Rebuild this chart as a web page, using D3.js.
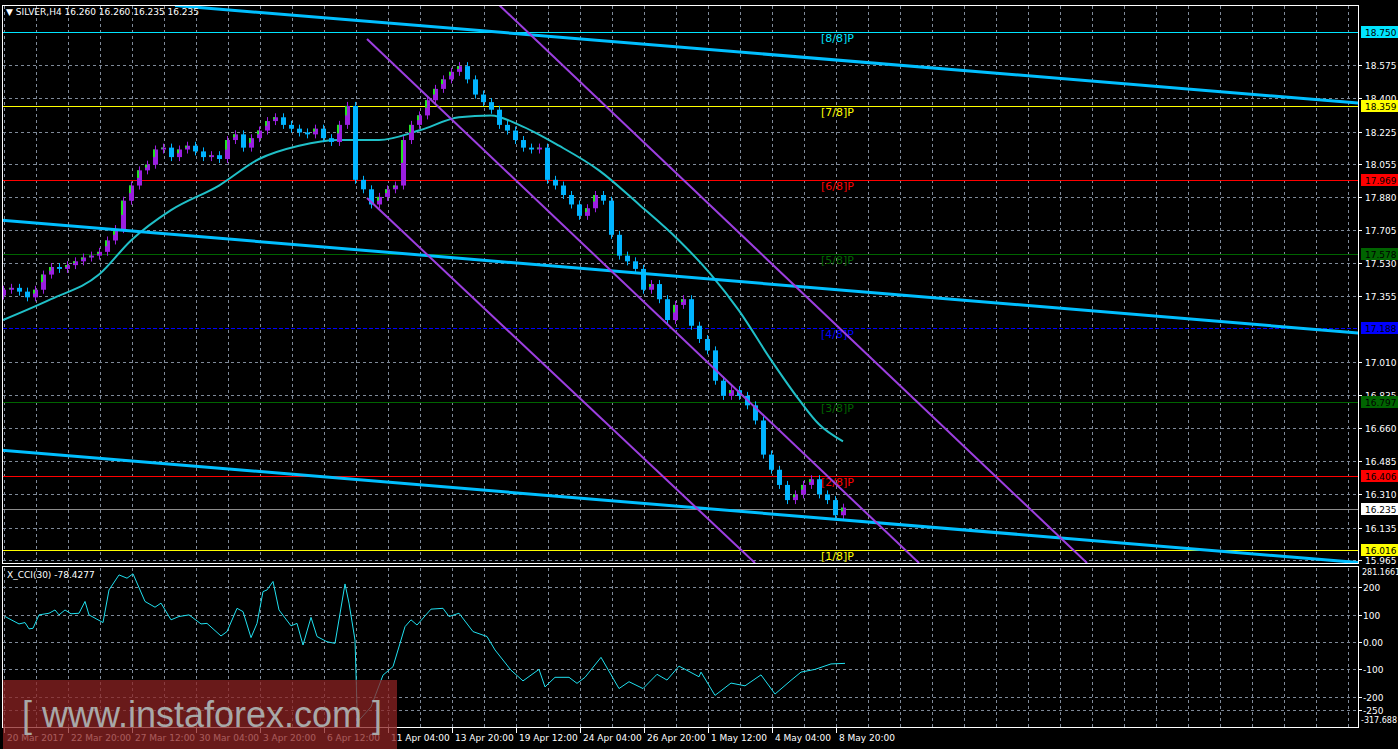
<!DOCTYPE html>
<html><head><meta charset="utf-8">
<script src="https://cdn.jsdelivr.net/npm/d3@7"></script>
<style>body{margin:0;background:#000;}svg{display:block;}text{font-family:"DejaVu Sans",sans-serif;font-size:9px;}</style>
</head><body>
<svg id="c" width="1398" height="749"></svg>
<script>
// closes of the 8-hour candles (slot = 2 * candle index)
var closes = [17.39,17.40,17.38,17.35,17.39,17.47,17.51,17.50,17.52,17.54,
  17.56,17.57,17.59,17.65,17.71,17.86,17.94,18.02,18.05,18.13,
  18.14,18.09,18.13,18.15,18.12,18.09,18.10,18.08,18.18,18.21,
  18.14,18.19,18.23,18.28,18.30,18.26,18.24,18.22,18.21,18.24,
  18.19,18.17,18.26,18.36,17.97,17.92,17.84,17.88,17.92,17.94,
  18.18,18.26,18.31,18.39,18.45,18.50,18.54,18.57,18.50,18.42,
  18.38,18.34,18.26,18.23,18.18,18.14,18.13,18.14,17.97,17.94,
  17.89,17.84,17.78,17.82,17.89,17.86,17.68,17.57,17.54,17.50,
  17.39,17.42,17.34,17.23,17.31,17.34,17.20,17.13,17.07,16.91,
  16.83,16.86,16.83,16.78,16.70,16.52,16.44,16.36,16.28,16.31,
  16.36,16.39,16.31,16.28,16.20,16.24];
var firstOpen = 17.36;
var maSlot = [0,12,24,32,42,54,64,74,84,94,104,114,122,129,139,149,159,169,177,184,192,199,204,210];
var maVal = [17.23,17.34,17.47,17.65,17.81,17.94,18.08,18.15,18.18,18.18,18.23,18.30,18.31,18.26,18.15,18.02,17.84,17.65,17.47,17.28,17.02,16.81,16.68,16.59];
var cci = [[0.5,93],[4,66],[5.5,71],[6.5,48],[7.5,50],[9,99],[11.5,105],[13,117],[14,99],[15.5,117],[17,103],[19,105],[20.5,148],[21.5,99],[25,71],[26.5,190],[29,245],[31,233],[32.5,249],[35.5,148],[38,127],[39.5,142],[42,81],[44,93],[46.5,99],[49.5,66],[51,68],[54.5,22],[56,38],[58.5,123],[60,111],[62,16],[63.5,68],[65,184],[66,190],[67.5,221],[69,117],[72,59],[73.5,68],[75,-11],[77,90],[78.5,20],[81,1],[83,-5],[85.5,212],[86.5,142],[88,7],[88.5,-237],[89,-286],[92,-237],[95,-121],[97.5,-90],[100.5,56],[102,81],[103.5,62],[107,120],[110,123],[111.5,93],[114,105],[117.5,38],[121,20],[123,-29],[127,-103],[130,-142],[134,-100],[135.5,-164],[138,-129],[141.5,-129],[143.5,-151],[145.5,-129],[149.5,-56],[154,-170],[156.5,-145],[160,-170],[163.5,-118],[166,-139],[169,-88],[174,-127],[174.5,-110],[178,-195],[182,-150],[185.5,-160],[189.5,-120],[193,-190],[197,-140],[199.5,-110],[203,-100],[207,-80],[210.5,-78]];
var levels = [
  {p:18.750,name:"[8/8]P",c:"#00e5ff",bg:"#00e5ff",tc:"#000"},
  {p:18.359,name:"[7/8]P",c:"#ffff00",bg:"#ffff00",tc:"#000"},
  {p:17.969,name:"[6/8]P",c:"#ff0000",bg:"#ff0000",tc:"#000"},
  {p:17.578,name:"[5/8]P",c:"#006400",bg:"#006400",tc:"#000"},
  {p:17.188,name:"[4/8]P",c:"#0000ff",bg:"#0000ff",tc:"#000",dash:"4,2"},
  {p:16.797,name:"[3/8]P",c:"#006400",bg:"#006400",tc:"#000"},
  {p:16.406,name:"[2/8]P",c:"#ff0000",bg:"#ff0000",tc:"#000"},
  {p:16.016,name:"[1/8]P",c:"#ffff00",bg:"#ffff00",tc:"#000"}];
var trendLines = [[43,18.89,339,18.375],[-0.75,17.758,345.5,17.15],[-0.75,16.544,339,15.95]];
var channel = [[123.5,18.903,271,15.948],[91,18.713,229,15.948],[91,17.874,188,15.948]];
var priceTicks = ["18.575","18.400","18.225","18.055","17.880","17.705","17.530","17.355","17.010","16.835","16.660","16.485","16.310","16.135","15.965"];
var cciTicks = [200,100,0,-100,-200,-250];
var timeLabels = ["20 Mar 2017","22 Mar 20:00","27 Mar 12:00","30 Mar 04:00","3 Apr 20:00","6 Apr 12:00","11 Apr 04:00","13 Apr 20:00","19 Apr 12:00","24 Apr 04:00","26 Apr 20:00","1 May 12:00","4 May 04:00","8 May 20:00"];
var lastPrice = 16.235;

var svg = d3.select("#c");
var W = 1358;
var x = d3.scaleLinear().domain([0, 338.75]).range([3, 1358]);
var y = d3.scaleLinear().domain([15.948, 18.919]).range([563, 0]);
var yc = d3.scaleLinear().domain([-317.688, 281.1661]).range([729, 565]);

svg.append("rect").attr("width",1398).attr("height",749).attr("fill","#000");

// grid
var g = svg.append("g").attr("stroke","#7f8a99").attr("stroke-dasharray","3,3").attr("stroke-width",1);
for (var s = 0.25; s < 338; s += 8) {
  g.append("line").attr("x1",Math.round(x(s))+0.5).attr("x2",Math.round(x(s))+0.5).attr("y1",6).attr("y2",563);
  g.append("line").attr("x1",Math.round(x(s))+0.5).attr("x2",Math.round(x(s))+0.5).attr("y1",568).attr("y2",728);
}
priceTicks.forEach(function (t) {
  var yy = Math.round(y(+t)) + 0.5;
  g.append("line").attr("x1",3).attr("x2",W).attr("y1",yy).attr("y2",yy);
});
cciTicks.forEach(function (t) {
  var yy = Math.round(yc(t)) + 0.5;
  g.append("line").attr("x1",3).attr("x2",W).attr("y1",yy).attr("y2",yy);
});

// clip for price panel
svg.append("clipPath").attr("id","pc").append("rect").attr("x",2).attr("y",6).attr("width",W-2).attr("height",557);
var pg = svg.append("g").attr("clip-path","url(#pc)");

levels.forEach(function (l) {
  var yy = Math.round(y(l.p)) + 0.5;
  pg.append("line").attr("x1",3).attr("x2",W).attr("y1",yy).attr("y2",yy)
    .attr("stroke",l.c).attr("stroke-width",1).attr("stroke-dasharray",l.dash || null);
  pg.append("text").attr("x",821).attr("y",yy+9).attr("fill",l.c).style("font-size","11px").text(l.name);
});
pg.append("line").attr("x1",3).attr("x2",W).attr("y1",Math.round(y(lastPrice))+0.5).attr("y2",Math.round(y(lastPrice))+0.5).attr("stroke","#8c8c8c");

// moving average
var line = d3.line().x(function (d) { return x(d[0]); }).y(function (d) { return y(d[1]); }).curve(d3.curveMonotoneX);
pg.append("path").attr("d", line(maSlot.map(function (s, i) { return [s, maVal[i]]; })))
  .attr("fill","none").attr("stroke","#20c0c8").attr("stroke-width",2);

// candles
closes.forEach(function (c, i) {
  var o = i === 0 ? firstOpen : closes[i - 1];
  var cx = Math.round(x(2 * i));
  var up = c >= o;
  var top = y(Math.max(o, c)), bot = y(Math.min(o, c));
  var col = up ? "#9b1fe0" : "#00b4ff";
  pg.append("line").attr("x1",cx+0.5).attr("x2",cx+0.5).attr("y1",top-4).attr("y2",bot+4).attr("stroke",col);
  pg.append("rect").attr("x",cx-2).attr("y",top).attr("width",5).attr("height",Math.max(1,bot-top)).attr("fill",col);
  if (up) pg.append("rect").attr("x",cx-2).attr("y",top).attr("width",2).attr("height",Math.max(1,(bot-top)/2)).attr("fill","#22e322");
});

// trend lines and channel
trendLines.forEach(function (t) {
  pg.append("line").attr("x1",x(t[0])).attr("y1",y(t[1])).attr("x2",x(t[2])).attr("y2",y(t[3]))
    .attr("stroke","#00bfff").attr("stroke-width",3);
});
channel.forEach(function (t) {
  pg.append("line").attr("x1",x(t[0])).attr("y1",y(t[1])).attr("x2",x(t[2])).attr("y2",y(t[3]))
    .attr("stroke","#9d3fe0").attr("stroke-width",2);
});

// CCI
svg.append("path").attr("d", d3.line().x(function (d) { return x(d[0]); }).y(function (d) { return yc(d[1]); })(cci))
  .attr("fill","none").attr("stroke","#20e0f0").attr("stroke-width",1);

// frames
svg.append("rect").attr("x",2.5).attr("y",5.5).attr("width",W-2).attr("height",558).attr("fill","none").attr("stroke","#fff");
svg.append("rect").attr("x",2.5).attr("y",566.5).attr("width",W-2).attr("height",161).attr("fill","none").attr("stroke","#fff");

// price axis
var ax = svg.append("g");
priceTicks.forEach(function (t) {
  var yy = Math.round(y(+t));
  ax.append("line").attr("x1",W).attr("x2",W+4).attr("y1",yy+0.5).attr("y2",yy+0.5).attr("stroke","#fff");
  ax.append("text").attr("x",W+7).attr("y",yy+4).attr("fill","#fff").text(t);
});
levels.concat([{p:lastPrice,bg:"#fff",tc:"#000"}]).forEach(function (l) {
  var yy = Math.round(y(l.p));
  ax.append("rect").attr("x",W+3).attr("y",yy-6).attr("width",37).attr("height",12).attr("fill",l.bg);
  ax.append("text").attr("x",W+7).attr("y",yy+4).attr("fill",l.tc).text(l.p.toFixed(3));
});
cciTicks.forEach(function (t) {
  var yy = Math.round(yc(t));
  ax.append("line").attr("x1",W).attr("x2",W+4).attr("y1",yy+0.5).attr("y2",yy+0.5).attr("stroke","#fff");
  ax.append("text").attr("x",W+5).attr("y",yy+4).attr("fill","#fff").text(t === 0 ? "0.00" : t);
});
ax.append("text").attr("x",W+4).attr("y",575).attr("fill","#fff").style("font-size","8px").text("281.1661");
ax.append("text").attr("x",W+3).attr("y",723).attr("fill","#fff").style("font-size","8px").text("-317.688");

// time axis
timeLabels.forEach(function (t, i) {
  var xx = Math.round(x(0.25 + 16 * i));
  ax.append("line").attr("x1",xx+0.5).attr("x2",xx+0.5).attr("y1",728).attr("y2",733).attr("stroke","#fff");
  ax.append("text").attr("x",xx+3).attr("y",741).attr("fill","#fff").text(t);
});

// titles
svg.append("text").attr("x",6).attr("y",15).attr("fill","#fff").text("\u25BC SILVER,H4  16.260 16.260 16.235 16.235");
svg.append("text").attr("x",7).attr("y",578).attr("fill","#fff").text("X_CCI(30) -78.4277");

// watermark
svg.append("rect").attr("x",3).attr("y",680).attr("width",394).attr("height",69).attr("fill","rgba(140,35,35,0.75)");
svg.append("text").attr("x",22).attr("y",727).attr("fill","#a8a8a8").style("font-size","36px").style("font-family","Arial, 'Liberation Sans'")
  .text("[  www.instaforex.com ]");
</script>
</body></html>
